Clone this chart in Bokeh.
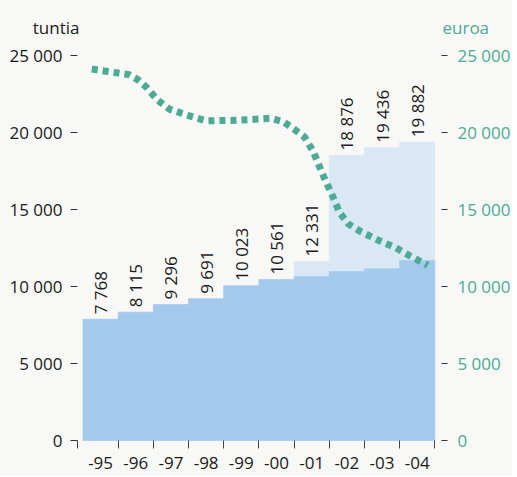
from math import pi
from bokeh.plotting import figure
from bokeh.models import Range1d, FixedTicker, LinearAxis, ColumnDataSource
from bokeh.core.properties import value
from bokeh.embed import file_html
from bokeh.resources import INLINE

# ---------------- data ----------------
years = ["-95", "-96", "-97", "-98", "-99", "-00", "-01", "-02", "-03", "-04"]
hours_labels = [7768, 8115, 9296, 9691, 10023, 10561, 12331, 18876, 19436, 19882]
hours_light = [7870, 8330, 8830, 9200, 10050, 10450, 11620, 18510, 19010, 19370]
hours_dark = [7870, 8330, 8830, 9200, 10050, 10450, 10650, 10970, 11150, 11690]

# euro curve (position in years from start of 1995)
euro_pos = [0.25, 0.7, 1.3, 1.55, 1.8, 2.1, 2.45, 3.0, 3.5, 4.2, 5.0, 5.35, 5.7,
            6.0, 6.3, 6.55, 6.8, 7.05, 7.3, 7.55, 7.9, 8.4, 8.9, 9.3, 9.8]
euro_val = [24120, 23960, 23760, 23440, 22950, 22150, 21520, 21100, 20760, 20780,
            20870, 20930, 20690, 20220, 19700, 18750, 17350, 16100, 14780, 14050,
            13560, 13000, 12500, 11980, 11380]

y_ticks = [0, 5000, 10000, 15000, 20000, 25000]
y_tick_labels = ["0", "5 000", "10 000", "15 000", "20 000", "25 000"]
unit_left = "tuntia"
unit_right = "euroa"

# ---------------- style ----------------
BG = "#f8f8f6"
LIGHT = "#dae8f6"
DARK = "#a3c9ec"
TEAL = "#4daa94"
INK = "#1a1a1a"
FONT = "Open Sans"
FS = "17px"

W, H = 512, 476
X_START, X_END = -2.345, 12.209
Y_START, Y_END = -2338, 28571
X_LEFT_AXIS, X_RIGHT_AXIS = -0.156, 10.19
UNIT_Y = 26800

n = len(years)
centers = [i + 0.5 for i in range(n)]
src = ColumnDataSource(dict(
    x=centers,
    light=hours_light,
    dark=hours_dark,
    lab=[f"{v:,}".replace(",", " ") for v in hours_labels],
))

p = figure(width=W, height=H, output_backend="svg", toolbar_location=None,
           x_range=Range1d(X_START, X_END), y_range=Range1d(Y_START, Y_END),
           min_border=0)
p.background_fill_color = BG
p.border_fill_color = BG
p.outline_line_color = None
p.xgrid.grid_line_color = None
p.ygrid.grid_line_color = None

p.vbar(x="x", width=1.0, top="light", bottom=0, source=src,
       fill_color=LIGHT, line_color=LIGHT, line_width=0.6)
p.vbar(x="x", width=1.0, top="dark", bottom=0, source=src,
       fill_color=DARK, line_color=DARK, line_width=0.6)

p.text(x="x", y="light", text="lab", source=src, angle=pi / 2,
       text_align="left", text_baseline="middle", y_offset=-5,
       text_font=value(FONT), text_font_size=FS, text_color=INK)

p.line(euro_pos, euro_val, line_color=TEAL, line_width=7, line_dash="6 5")

p.text(x=[X_LEFT_AXIS], y=[UNIT_Y], text=[unit_left], text_align="right",
       text_baseline="alphabetic", x_offset=2,
       text_font=value(FONT), text_font_size=FS, text_color=INK)
p.text(x=[X_RIGHT_AXIS], y=[UNIT_Y], text=[unit_right], text_align="left",
       text_baseline="alphabetic", x_offset=1,
       text_font=value(FONT), text_font_size=FS, text_color=TEAL)

# x axis: year labels at centers, ticks at boundaries
xa = p.xaxis[0]
xa.fixed_location = 0
xa.ticker = FixedTicker(ticks=centers,
                        minor_ticks=[X_LEFT_AXIS] + list(range(1, n + 1)))
xa.major_label_overrides = {c: y for c, y in zip(centers, years)}
xa.axis_line_color = None
xa.major_tick_out = 0
xa.major_tick_in = 0
xa.minor_tick_out = 8
xa.minor_tick_in = 0
xa.minor_tick_line_color = "#444444"
xa.major_label_standoff = 9
xa.major_label_text_font = FONT
xa.major_label_text_font_size = FS
xa.major_label_text_color = INK

ya = p.yaxis[0]
ya.fixed_location = X_LEFT_AXIS
ya.ticker = FixedTicker(ticks=y_ticks, minor_ticks=[])
ya.major_label_overrides = dict(zip(y_ticks, y_tick_labels))
ya.axis_line_color = None
ya.major_tick_out = 7
ya.major_tick_in = 0
ya.major_tick_line_color = "#333333"
ya.major_label_standoff = 8
ya.major_label_text_font = FONT
ya.major_label_text_font_size = FS
ya.major_label_text_color = INK

ra = LinearAxis(ticker=FixedTicker(ticks=y_ticks, minor_ticks=[]),
                fixed_location=X_RIGHT_AXIS)
ra.major_label_overrides = dict(zip(y_ticks, y_tick_labels))
ra.axis_line_color = None
ra.major_tick_out = 6
ra.major_tick_in = 0
ra.major_tick_line_color = "#333333"
ra.major_label_standoff = 10
ra.major_label_text_font = FONT
ra.major_label_text_font_size = FS
ra.major_label_text_color = TEAL
p.add_layout(ra, "right")

html = file_html(p, INLINE)
html = html.replace("<body>", f'<body style="background:{BG}">', 1)
open("out.html", "w").write(html)
